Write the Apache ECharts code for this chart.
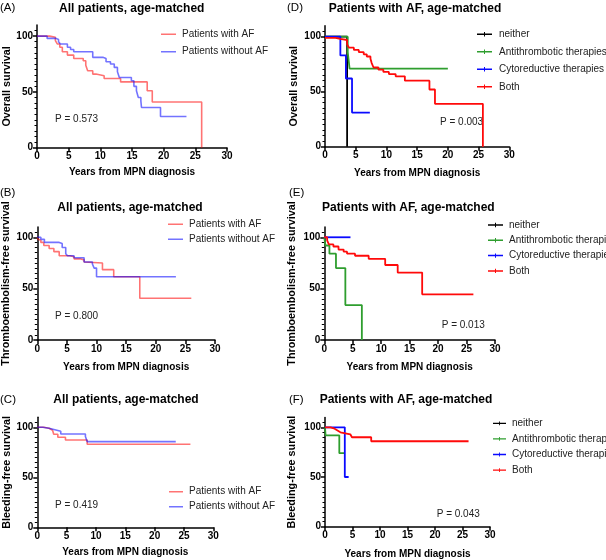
<!DOCTYPE html>
<html><head><meta charset="utf-8">
<script src="https://cdn.jsdelivr.net/npm/echarts@6/dist/echarts.min.js"></script>
<style>html,body{margin:0;padding:0;background:#fff}#c{width:606px;height:560px}</style>
</head><body><div id="c"></div>
<script>
// ---------- text ----------
const panelLabels = ['(A)', '(B)', '(C)', '(D)', '(E)', '(F)'];
const panelTitles = ['All patients, age-matched', 'All patients, age-matched', 'All patients, age-matched',
  'Patients with AF, age-matched', 'Patients with AF, age-matched', 'Patients with AF, age-matched'];
const yNames = ['Overall survival', 'Thromboembolism-free survival', 'Bleeding-free survival',
  'Overall survival', 'Thromboembolism-free survival', 'Bleeding-free survival'];
const xName = 'Years from MPN diagnosis';
const pValues = ['P = 0.573', 'P = 0.800', 'P = 0.419', 'P = 0.003', 'P = 0.013', 'P = 0.043'];
const groupAF = ['Patients with AF', 'Patients without AF'];
const groupTx = ['neither', 'Antithrombotic therapies', 'Cytoreductive therapies', 'Both'];
const xTicks = [0, 5, 10, 15, 20, 25, 30];
const yTicks = [0, 50, 100];

// ---------- data: [years, survival %] at each step ----------
const aWithAF = [[0,100],[2.0,99],[2.9,96],[3.2,93],[3.6,90],[4.0,86],[4.8,83],[5.8,80],[7.3,78],[7.7,74],[8.0,69],[8.8,66],[9.3,64.5],[10.6,62],[13.2,59],[17.4,51],[18.2,41],[26,41],[26,0]];
const aWithoutAF = [[0,100],[1.6,98],[3.0,97],[3.4,95],[3.7,93],[4.8,90],[5.3,88],[5.8,86],[8.8,81],[10.4,80],[10.9,77],[11.6,75],[12.2,72],[12.7,68],[13.0,63],[14.9,60],[15.3,55],[15.7,51],[16.0,45],[16.4,42],[16.5,36],[19.5,28],[23.6,28]];
const bWithAF = [[0,100],[0.1,98],[0.3,97],[0.6,95],[1.1,92],[2.0,89],[2.8,86],[3.7,82],[5.5,81],[6.2,79],[7.2,78],[7.9,76],[8.2,75],[11.0,68.5],[12.9,61.5],[17.3,40.6],[26,40.6]];
const bWithoutAF = [[0,100],[0.6,98],[1.2,95],[3.7,94],[4.2,90],[4.8,84],[5.1,82],[6.2,80],[7.9,76],[9.3,74],[9.6,70],[10.0,61.5],[23.4,61.5]];
const cWithAF = [[0,100],[1.1,99],[2.0,97],[2.6,96],[2.8,93],[3.5,90],[4.8,87.3],[8.5,83],[26.1,83]];
const cWithoutAF = [[0,100],[0.9,99],[2.0,97.5],[3.0,96],[4.0,93.3],[8.2,90.7],[8.5,85.7],[23.6,85.7]];
const dNeither = [[0,100],[3.6,100],[3.6,0]];
const dAntithrombotic = [[0,100],[3.7,86],[4.0,71],[20,71]];
const dCytoreductive = [[0,100],[2.5,83],[3.4,62],[4.4,31],[7.3,31]];
const dBoth = [[0,99],[1.7,98],[2.5,97],[3.6,93],[3.9,90],[4.7,88],[5.5,86],[6.3,84],[6.8,82],[7.4,80],[7.6,76],[7.9,72],[8.7,70],[9.5,68],[10.4,66],[11.5,64],[13.0,60],[17.0,52],[17.9,39],[25.7,39],[25.7,0]];
const eNeither = [];
const eAntithrombotic = [[0,100],[0.2,92],[0.9,84],[2.05,70],[3.7,34],[6.6,34],[6.6,0]];
const eCytoreductive = [[0,100],[4.6,100]];
const eBoth = [[0,100],[0.5,97],[0.8,93],[1.6,91],[2.5,88],[3.4,86],[4.0,84],[5.4,82],[7.8,79],[10.7,73],[12.9,65.6],[17.2,44.5],[26.2,44.5]];
const fNeither = [];
const fAntithrombotic = [[0,100],[0.1,92],[2.6,74],[3.6,74]];
const fCytoreductive = [[0,100],[3.6,50],[4.3,50]];
const fBoth = [[0,100],[1.0,99],[1.6,97],[2.2,95],[2.8,94],[3.7,93],[4.6,91],[4.9,90],[8.4,86],[26.1,86]];

// ---------- layout & style ----------
const FONT = '"Liberation Sans", Arial, Helvetica, sans-serif';
const grids = [
  {left: 37, top: 25, width: 190, height: 122.7},
  {left: 37.3, top: 227, width: 177.7, height: 113},
  {left: 37.3, top: 417.3, width: 176, height: 110},
  {left: 325, top: 25.7, width: 184.3, height: 121},
  {left: 324.3, top: 227, width: 170.7, height: 113},
  {left: 325, top: 417.4, width: 165, height: 109.3}
];
const yNameGap = [24, 25.3, 25, 25, 26.3, 27];
const xNameGap = [19.6, 22, 19.7, 21.3, 22, 22.3];
const titlePos = [[131.7, 8.5], [130, 207.7], [126, 400], [415, 8.5], [408.3, 207.7], [406, 399.5]];
const labelPos = [[0, 8], [0, 193], [0, 400], [287, 8], [289, 193], [289, 400]];
const pPos = [[55, 119.3], [55, 316.7], [55, 505], [440, 122.7], [441.7, 325.7], [436.7, 514]];
const legendLayout = [
  {left: 161, top: 28.3, itemGap: 5.4, itemWidth: 15},
  {left: 168, top: 218.3, itemGap: 3, itemWidth: 15},
  {left: 169, top: 485.7, itemGap: 3, itemWidth: 14},
  {left: 477, top: 28.3, itemGap: 5.5, itemWidth: 17},
  {left: 488, top: 219, itemGap: 3.3, itemWidth: 15},
  {left: 493, top: 417.3, itemGap: 3.6, itemWidth: 13}
];
const colAF = ['rgba(255,0,0,0.55)', 'rgba(0,0,255,0.55)'];
const colTx = ['#000000', '#2f9e2f', '#0a0aff', '#ff0a0a'];
// legend glyphs: a plain line (A-C) and a line with a censor tick (D-F); corner specks fix the box to 15x12
const iconLine = 'path://M0,0L0.01,0L0.01,0.01Z M0,5.25L15,5.25L15,6.75L0,6.75Z M14.99,12L15,12L15,11.99Z';
const iconTick = 'path://M0,0L0.01,0L0.01,0.01Z M0,5.25L15,5.25L15,6.75L0,6.75Z M7,3.8L8,3.8L8,8.2L7,8.2Z M14.99,12L15,12L15,11.99Z';

const panelData = [
  [aWithAF, aWithoutAF], [bWithAF, bWithoutAF], [cWithAF, cWithoutAF],
  [dNeither, dAntithrombotic, dCytoreductive, dBoth],
  [eNeither, eAntithrombotic, eCytoreductive, eBoth],
  [fNeither, fAntithrombotic, fCytoreductive, fBoth]
];

const xAxis = [], yAxis = [], series = [], legend = [], graphic = [];
grids.forEach((g, i) => {
  xAxis.push({
    type: 'value', gridIndex: i, min: 0, max: 30, interval: 5,
    name: xName, nameLocation: 'middle', nameGap: xNameGap[i],
    nameTextStyle: {fontFamily: FONT, fontWeight: 'bold', fontSize: 10, color: '#000'},
    axisLine: {show: true, onZero: false, lineStyle: {color: '#000', width: 1.5}},
    axisTick: {show: true, length: 4, lineStyle: {color: '#000', width: 1.5}},
    axisLabel: {fontFamily: FONT, fontWeight: 'bold', fontSize: 10, color: '#000', margin: 4},
    splitLine: {show: false}
  });
  yAxis.push({
    type: 'value', gridIndex: i, min: 0, max: 110, interval: 50,
    name: yNames[i], nameLocation: 'middle', nameGap: yNameGap[i],
    nameTextStyle: {fontFamily: FONT, fontWeight: 'bold', fontSize: 10.8, color: '#000'},
    axisLine: {show: true, onZero: false, lineStyle: {color: '#000', width: 1.5}},
    axisTick: {show: true, length: 4, customValues: yTicks, lineStyle: {color: '#000', width: 1.5}},
    minorTick: {show: true, splitNumber: 10, length: 2.5, lineStyle: {color: '#000', width: 1}},
    axisLabel: {fontFamily: FONT, fontWeight: 'bold', fontSize: 10, color: '#000', margin: 4, customValues: yTicks},
    splitLine: {show: false}
  });
  const names = i < 3 ? groupAF : groupTx;
  const cols = i < 3 ? colAF : colTx;
  panelData[i].forEach((d, k) => {
    series.push({
      type: 'line', name: names[k], xAxisIndex: i, yAxisIndex: i, data: d,
      step: 'end', symbol: 'none', animation: false,
      lineStyle: {color: cols[k], width: i < 3 ? 1.6 : 1.8},
      itemStyle: {color: cols[k]}
    });
  });
  const L = legendLayout[i];
  legend.push({
    orient: 'vertical', left: L.left, top: L.top, itemGap: L.itemGap, itemWidth: L.itemWidth, itemHeight: 12,
    padding: 0, data: names, selectedMode: false, icon: i < 3 ? iconLine : iconTick,
    textStyle: {fontFamily: FONT, fontSize: 10, color: '#222', lineHeight: 12, padding: [0, 0, 0, 1]}
  });
  graphic.push({type: 'text', x: titlePos[i][0], y: titlePos[i][1],
    style: {text: panelTitles[i], font: 'bold 12px ' + FONT, fill: '#000', textAlign: 'center', textVerticalAlign: 'middle'}});
  graphic.push({type: 'text', x: labelPos[i][0], y: labelPos[i][1],
    style: {text: panelLabels[i], font: '11.5px ' + FONT, fill: '#000', textAlign: 'left', textVerticalAlign: 'middle'}});
  graphic.push({type: 'text', x: pPos[i][0], y: pPos[i][1],
    style: {text: pValues[i], font: '10px ' + FONT, fill: '#222', textAlign: 'left', textVerticalAlign: 'middle'}});
});

const chart = echarts.init(document.getElementById('c'), null, {renderer: 'canvas'});
chart.setOption({
  animation: false,
  backgroundColor: '#fff',
  grid: grids,
  xAxis, yAxis, series, legend, graphic
});
</script>
</body></html>
